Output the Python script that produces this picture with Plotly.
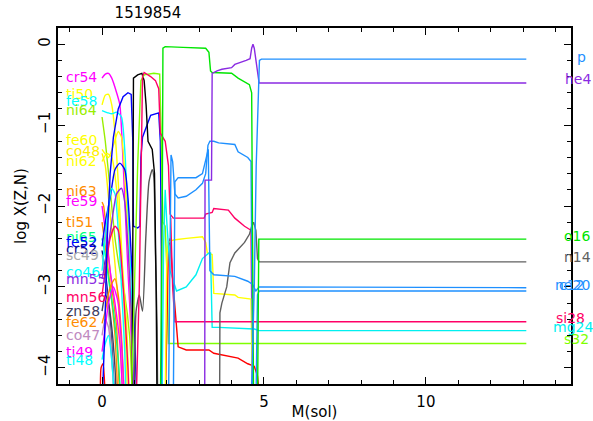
import plotly.graph_objects as go

# ---------------- data (mass in Msun, log10 abundance) ----------------
# surface / shell species
m_p = [4.60, 4.70, 4.76, 4.82, 4.86, 4.92, 13.1]
x_p = [-4.5, -3.0, -1.5, -0.5, -0.2, -0.185, -0.185]

m_he4 = [3.17, 3.18, 3.38, 3.40, 3.55, 3.70, 4.00, 4.10, 4.45, 4.57, 4.62, 4.66, 4.70, 4.75, 4.80, 4.85, 13.1]
x_he4 = [-4.5, -1.68, -1.68, -0.36, -0.33, -0.31, -0.29, -0.25, -0.20, -0.18, -0.05, 0.0, -0.05, -0.18, -0.30, -0.48, -0.48]

m_o16 = [1.80, 1.86, 1.88, 1.95, 2.50, 3.20, 3.30, 3.35, 3.40, 4.00, 4.20, 4.55, 4.62, 4.68, 4.80, 4.84, 13.1]
x_o16 = [-4.5, -2.0, -0.05, -0.03, -0.04, -0.05, -0.10, -0.33, -0.35, -0.36, -0.42, -0.50, -0.60, -4.5, -4.5, -2.41, -2.41]

m_n14 = [3.63, 3.64, 3.70, 3.85, 3.95, 4.10, 4.40, 4.55, 4.62, 4.68, 4.75, 4.80, 4.85, 13.1]
x_n14 = [-4.5, -3.32, -3.20, -3.00, -2.70, -2.58, -2.45, -2.35, -2.25, -2.20, -2.30, -2.65, -2.69, -2.69]

m_c12 = [2.05, 2.10, 2.13, 2.18, 2.25, 2.35, 2.60, 2.90, 3.10, 3.20, 3.27, 3.33, 3.45, 3.60, 4.10, 4.20, 4.50, 4.60, 4.66, 4.75, 4.80, 4.85, 13.1]
x_c12 = [-4.5, -2.5, -1.37, -1.45, -1.85, -1.90, -1.88, -1.80, -1.72, -1.60, -1.25, -1.20, -1.20, -1.22, -1.24, -1.33, -1.40, -1.45, -4.5, -4.5, -3.10, -3.05, -3.05]

m_ne20 = [2.20, 2.25, 2.35, 2.90, 3.10, 3.20, 3.28, 3.33, 3.45, 4.10, 4.50, 4.65, 4.75, 4.85, 13.1]
x_ne20 = [-4.5, -1.70, -1.65, -1.65, -1.60, -1.45, -1.30, -2.80, -2.85, -2.87, -2.93, -2.97, -3.05, -3.00, -3.01]

m_si28 = [2.12, 2.18, 2.25, 13.1]
x_si28 = [-2.15, -3.00, -3.43, -3.43]

m_si28b = [1.05, 1.15, 1.22, 1.25, 1.30, 1.50, 1.65, 1.75, 1.80, 1.95, 2.05, 2.10, 2.20, 3.15, 3.20, 3.40, 3.45, 3.90, 4.10, 4.40, 4.60, 4.65]
x_si28b = [-4.5, -3.0, -1.2, -0.40, -0.35, -0.40, -0.45, -0.55, -1.10, -1.20, -1.50, -2.10, -2.15, -2.15, -2.10, -2.08, -2.03, -2.05, -2.15, -2.25, -2.30, -4.5]

m_mg24 = [1.85, 1.90, 1.95, 2.00, 2.10, 2.30, 2.60, 2.90, 3.10, 3.30, 3.35, 3.40, 3.60, 4.70, 4.85, 13.1]
x_mg24 = [-4.5, -2.5, -1.80, -2.20, -2.80, -3.05, -3.00, -2.85, -2.65, -2.58, -2.58, -3.50, -3.50, -3.52, -3.54, -3.54]

m_s32 = [0.90, 1.00, 1.10, 1.20, 1.30, 1.60, 1.78, 1.82, 1.88, 1.95, 2.02, 2.05, 13.1]
x_s32 = [-4.5, -3.0, -1.5, -0.45, -0.38, -0.36, -0.37, -1.0, -2.2, -2.25, -3.0, -3.70, -3.70]

m_red = [1.95, 2.05, 2.10, 2.20, 2.35, 2.60, 3.30, 3.45, 4.20, 4.50, 4.70, 4.80, 4.90]
x_red = [-4.5, -2.5, -2.4, -3.0, -3.74, -3.78, -3.78, -3.82, -3.88, -3.95, -3.98, -4.10, -4.5]

m_yel = [1.95, 2.00, 2.05, 2.20, 2.60, 3.10, 3.20, 3.25, 3.40, 3.45, 4.10, 4.20, 4.60, 4.65]
x_yel = [-4.5, -2.6, -2.45, -2.42, -2.40, -2.38, -2.45, -2.58, -2.60, -3.08, -3.10, -3.13, -3.15, -4.5]

# core (iron-group) species
m_black = [0.93, 0.96, 0.97, 1.10, 1.23, 1.30, 1.36, 1.42, 1.55, 1.62, 1.67, 1.70]
x_black = [-4.5, -2.5, -0.42, -0.38, -0.36, -0.45, -0.75, -1.20, -1.30, -1.60, -3.0, -4.5]

m_gray = [1.00, 1.05, 1.15, 1.25, 1.35, 1.45, 1.55, 1.60, 1.65, 1.70, 1.72]
x_gray = [-4.5, -3.3, -3.1, -3.3, -2.4, -1.7, -1.55, -1.65, -2.6, -3.5, -4.5]

m_blue = [0.00, 0.08, 0.15, 0.25, 0.35, 0.50, 0.65, 0.80, 0.90, 0.95, 0.97, 1.10, 1.17, 1.20, 1.25, 1.35, 1.50, 1.75, 1.80, 1.83, 1.85]
x_blue = [-4.5, -3.6, -2.5, -1.6, -1.15, -0.80, -0.65, -0.60, -0.62, -1.2, -2.25, -2.27, -2.25, -1.4, -1.15, -1.05, -0.88, -0.85, -1.2, -2.5, -4.5]

m_redloop = [-0.05, -0.03, 0.03, 0.08, 0.10]
x_redloop = [-4.5, -4.0, -3.95, -4.2, -4.5]

m_cr54 = [0.0, 0.1, 0.2, 0.3, 0.45, 0.55, 0.62, 0.7, 0.8, 0.9, 0.97]
x_cr54 = [-0.42, -0.37, -0.36, -0.42, -0.6, -0.75, -1.2, -1.9, -2.8, -3.6, -4.5]
m_ti50 = [0.0, 0.1, 0.2, 0.3, 0.4, 0.5, 0.6, 0.7, 0.8]
x_ti50 = [-0.75, -0.63, -0.62, -0.75, -1.1, -1.7, -2.5, -3.4, -4.5]
m_fe58 = [0.0, 0.2, 0.3, 0.45, 0.6, 0.7, 0.8, 0.9, 1.0]
x_fe58 = [-0.82, -0.85, -0.86, -0.84, -0.9, -1.3, -2.1, -3.0, -4.5]
m_ni64 = [0.0, 0.1, 0.25, 0.4, 0.55, 0.7, 0.85, 0.95]
x_ni64 = [-0.9, -1.2, -1.8, -2.4, -2.8, -3.1, -3.6, -4.5]
m_fe60 = [0.0, 0.2, 0.35, 0.5, 0.6, 0.7, 0.8, 0.9, 1.0]
x_fe60 = [-1.3, -1.4, -1.25, -1.08, -1.15, -1.6, -2.4, -3.4, -4.5]
m_co48 = [0.0, 0.1, 0.2, 0.35, 0.5, 0.6, 0.65]
x_co48 = [-1.35, -1.5, -1.9, -2.5, -3.2, -4.0, -4.5]
m_ni62 = [0.0, 0.15, 0.3, 0.45, 0.6, 0.75, 0.85]
x_ni62 = [-1.45, -1.35, -1.4, -1.8, -2.6, -3.4, -4.5]
m_ni63 = [0.0, 0.05, 0.15, 0.3, 0.45, 0.55]
x_ni63 = [-1.95, -2.0, -2.4, -3.0, -3.5, -4.5]
m_fe59 = [0.0, 0.1, 0.25, 0.4, 0.55, 0.65]
x_fe59 = [-2.0, -2.3, -2.8, -3.2, -3.7, -4.5]
m_ti51 = [0.0, 0.1, 0.25, 0.4, 0.5]
x_ti51 = [-2.2, -2.5, -3.0, -3.6, -4.5]
m_ni65 = [0.0, 0.1, 0.2, 0.35, 0.5, 0.6]
x_ni65 = [-2.4, -2.6, -2.9, -3.3, -3.9, -4.5]
m_fe52 = [0.0, 0.1, 0.25, 0.4, 0.55, 0.7, 0.8, 0.9, 1.0, 1.08]
x_fe52 = [-2.5, -2.2, -1.9, -1.55, -1.47, -1.55, -1.9, -2.6, -3.5, -4.5]
m_cr52 = [0.0, 0.1, 0.2, 0.3, 0.4]
x_cr52 = [-2.55, -2.8, -3.2, -3.7, -4.5]
m_sc49 = [0.0, 0.1, 0.2, 0.3, 0.38]
x_sc49 = [-2.6, -2.9, -3.3, -3.8, -4.5]
m_co46 = [0.0, 0.1, 0.2, 0.3, 0.4, 0.5, 0.6, 0.7, 0.75]
x_co46 = [-2.8, -2.4, -2.0, -1.78, -1.85, -2.3, -3.0, -3.8, -4.5]
m_mn55 = [0.0, 0.15, 0.3, 0.45, 0.6, 0.7, 0.8, 0.9, 1.0]
x_mn55 = [-2.9, -2.6, -2.2, -1.85, -1.78, -1.95, -2.5, -3.3, -4.5]
m_mn56 = [0.0, 0.1, 0.25, 0.4, 0.5, 0.6, 0.7, 0.8, 0.85]
x_mn56 = [-3.1, -2.8, -2.4, -2.25, -2.3, -2.7, -3.3, -4.0, -4.5]
m_zn58 = [0.0, 0.1, 0.2, 0.3, 0.4, 0.45]
x_zn58 = [-3.3, -3.1, -3.2, -3.5, -4.0, -4.5]
m_fe62 = [0.0, 0.1, 0.25, 0.4, 0.5, 0.6, 0.7]
x_fe62 = [-3.45, -3.3, -3.0, -2.9, -3.1, -3.6, -4.5]
m_co47 = [0.0, 0.1, 0.2, 0.3, 0.4]
x_co47 = [-3.6, -3.4, -3.5, -3.9, -4.5]
m_ti49 = [0.0, 0.1, 0.2, 0.35, 0.5, 0.6, 0.7]
x_ti49 = [-3.8, -3.5, -3.2, -3.0, -3.2, -3.7, -4.5]
m_ti48 = [0.0, 0.1, 0.2, 0.3, 0.4]
x_ti48 = [-3.9, -3.7, -3.6, -3.9, -4.5]

# labels: left side (name, value) and right side
left_names = ["cr54", "ti50", "fe58", "ni64", "fe60", "co48", "ni62", "ni63", "fe59", "ti51", "ni65",
              "fe52", "cr52", "sc49", "co46", "mn55", "mn56", "zn58", "fe62", "co47", "ti49", "ti48"]
left_vals = [-0.40, -0.62, -0.70, -0.81, -1.19, -1.32, -1.44, -1.81, -1.94, -2.20, -2.38,
             -2.45, -2.53, -2.60, -2.81, -2.90, -3.12, -3.30, -3.43, -3.59, -3.80, -3.90]
right_names = ["p", "he4", "o16", "n14", "c12", "ne20", "si28", "mg24", "s32"]
right_vals = [-0.16, -0.43, -2.37, -2.63, -2.98, -2.98, -3.38, -3.49, -3.64]

title_text = "1519854"
x_title = "M(sol)"
y_title = "log X(Z,N)"

# ---------------- styling ----------------
C = {
    "p": "#1e90ff", "he4": "#8a2be2", "o16": "#00e600", "n14": "#606060", "c12": "#1e90ff",
    "ne20": "#1e90ff", "si28": "#ff0066", "mg24": "#00f0f0", "s32": "#7fff00",
    "red": "#ff0000", "yel": "#ffff00", "black": "#000000", "gray": "#555555", "blue": "#0000ff",
    "cr54": "#ff00ff", "ti50": "#ffff00", "fe58": "#00ffff", "ni64": "#99ee00", "fe60": "#ffff00",
    "co48": "#ffee00", "ni62": "#ffff00", "ni63": "#ff8c00", "fe59": "#ff00ff", "ti51": "#ff8c00",
    "ni65": "#00ff80", "fe52": "#0000ff", "cr52": "#0a0a90", "sc49": "#aaaaaa", "co46": "#00ffff",
    "mn55": "#8a2be2", "mn56": "#ff0066", "zn58": "#404060", "fe62": "#ff8c00", "co47": "#c08ac0",
    "ti49": "#ff00ff", "ti48": "#00ffff",
}
# horizontal pixel centre of each right-hand label (layout only)
right_px = {"p": 581, "he4": 578, "o16": 577, "n14": 577, "c12": 572, "ne20": 572,
            "si28": 570, "mg24": 573, "s32": 576}

fig = go.Figure()


def add(m, x, col, spline=False):
    fig.add_trace(go.Scatter(
        x=m, y=x, mode="lines",
        line=dict(color=col, width=1.4, shape="spline" if spline else "linear",
                  smoothing=0.6 if spline else None),
        showlegend=False, hoverinfo="skip"))


core = [
    (m_cr54, x_cr54, "cr54"), (m_ti50, x_ti50, "ti50"), (m_fe58, x_fe58, "fe58"),
    (m_ni64, x_ni64, "ni64"), (m_fe60, x_fe60, "fe60"), (m_co48, x_co48, "co48"),
    (m_ni62, x_ni62, "ni62"), (m_ni63, x_ni63, "ni63"), (m_fe59, x_fe59, "fe59"),
    (m_ti51, x_ti51, "ti51"), (m_ni65, x_ni65, "ni65"), (m_fe52, x_fe52, "fe52"),
    (m_cr52, x_cr52, "cr52"), (m_sc49, x_sc49, "sc49"), (m_co46, x_co46, "co46"),
    (m_mn55, x_mn55, "mn55"), (m_mn56, x_mn56, "mn56"), (m_zn58, x_zn58, "zn58"),
    (m_fe62, x_fe62, "fe62"), (m_co47, x_co47, "co47"), (m_ti49, x_ti49, "ti49"),
    (m_ti48, x_ti48, "ti48"),
]
for m, x, k in core:
    add(m, x, C[k], spline=True)

add(m_redloop, x_redloop, C["red"], spline=True)
add(m_blue, x_blue, C["blue"])
add(m_gray, x_gray, C["gray"], spline=True)
add(m_black, x_black, C["black"])
add(m_s32, x_s32, C["s32"])
add(m_si28b, x_si28b, C["si28"])
add(m_red, x_red, C["red"])
add(m_yel, x_yel, C["yel"])
add(m_mg24, x_mg24, C["mg24"])
add(m_si28, x_si28, C["si28"])
add(m_n14, x_n14, C["n14"])
add(m_c12, x_c12, C["c12"])
add(m_ne20, x_ne20, C["ne20"])
add(m_o16, x_o16, C["o16"])
add(m_he4, x_he4, C["he4"])
add(m_p, x_p, C["p"])

FONT = "DejaVu Sans, Liberation Sans, sans-serif"
W, H = 593, 421
ML, MR = 58, 22
ann = []
for n, v in zip(left_names, left_vals):
    ann.append(dict(x=-1.11, y=v, xref="x", yref="y", text=n, showarrow=False, xanchor="left",
                    yanchor="middle", xshift=-2, font=dict(family=FONT, size=14, color=C[n])))
for n, v in zip(right_names, right_vals):
    ann.append(dict(x=(right_px[n] - ML) / (W - ML - MR), y=v, xref="paper", yref="y", text=n,
                    showarrow=False, xanchor="center", yanchor="middle",
                    font=dict(family=FONT, size=14, color=C[n])))

fig.update_layout(
    width=W, height=H,
    margin=dict(l=ML, r=MR, t=28, b=37),
    paper_bgcolor="white", plot_bgcolor="white",
    font=dict(family=FONT, size=15, color="black"),
    title=dict(text=title_text, x=148 / W, xanchor="center", y=1 - 13 / H, yanchor="middle",
               font=dict(family=FONT, size=15, color="black")),
    annotations=ann,
    xaxis=dict(range=[-1.36, 14.48], showgrid=False, zeroline=False, showline=True, linecolor="black",
               linewidth=1.5, mirror="ticks", ticks="inside", ticklen=7, tickwidth=1.2, tickcolor="black",
               dtick=5, tick0=0, tickfont=dict(family=FONT, size=15), automargin=False,
               ticklabelstandoff=3,
               minor=dict(dtick=1, tick0=0, ticks="inside", ticklen=4, tickcolor="black", tickwidth=1),
               title=dict(text=x_title, font=dict(family=FONT, size=15), standoff=0)),
    yaxis=dict(range=[-4.2, 0.2], showgrid=False, zeroline=False, showline=True, linecolor="black",
               linewidth=1.5, mirror="ticks", ticks="inside", ticklen=7, tickwidth=1.2, tickcolor="black",
               dtick=1, tick0=0, tickangle=-90, tickfont=dict(family=FONT, size=15), automargin=False,
               minor=dict(dtick=0.2, tick0=0, ticks="inside", ticklen=4, tickcolor="black", tickwidth=1),
               title=dict(text=y_title, font=dict(family=FONT, size=15), standoff=6)),
)

fig.write_html("out.html", config={"displayModeBar": False},
               post_script="document.body.style.margin='0';document.body.style.overflow='hidden';")
